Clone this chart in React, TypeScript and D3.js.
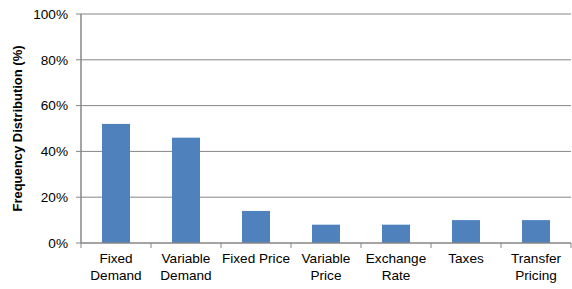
import React from "react";
import * as d3 from "d3";

const categories: string[][] = [
  ["Fixed", "Demand"],
  ["Variable", "Demand"],
  ["Fixed Price"],
  ["Variable", "Price"],
  ["Exchange", "Rate"],
  ["Taxes"],
  ["Transfer", "Pricing"],
];
const values: number[] = [52, 46, 14, 8, 8, 10, 10];
const yTicks: number[] = [0, 20, 40, 60, 80, 100];

const W = 572;
const H = 289;
const left = 81;
const right = 571;
const top = 14;
const bottom = 243;

export default function App() {
  const keys = categories.map((c) => c.join(" "));
  const x = d3.scaleBand<string>().domain(keys).range([left, right]).paddingInner(0.6).paddingOuter(0.3);
  const xs = d3.scaleBand<string>().domain(keys).range([left, right]);
  const y = d3.scaleLinear().domain([0, 100]).range([bottom, top]);
  const font = "'Liberation Sans', Arial, sans-serif";
  const fs = 13.6;
  return (
    <svg width={W} height={H} style={{ position: "absolute", left: 0, top: 0 }}>
      <rect width={W} height={H} fill="#fff" />
      {yTicks.map((t) =>
        t > 0 ? (
          <line key={t} x1={left} x2={right} y1={y(t)} y2={y(t)} stroke="#868686" strokeWidth={1} />
        ) : null
      )}
      {values.map((v, i) => (
        <rect
          key={i}
          x={x(keys[i])!}
          y={y(v)}
          width={x.bandwidth()}
          height={y(0) - y(v)}
          fill="#4F81BD"
        />
      ))}
      <line x1={left} x2={left} y1={top} y2={bottom} stroke="#868686" strokeWidth={1.5} />
      <line x1={left} x2={right} y1={bottom} y2={bottom} stroke="#868686" strokeWidth={1.5} />
      {yTicks.map((t) => (
        <g key={t}>
          <line x1={left - 5} x2={left} y1={y(t)} y2={y(t)} stroke="#868686" />
          <text x={68} y={y(t)} dy="0.35em" textAnchor="end" fontSize={fs} fontFamily={font} fill="#000">
            {t}%
          </text>
        </g>
      ))}
      {keys.map((k) => (
        <line key={k} x1={xs(k)!} x2={xs(k)!} y1={bottom} y2={bottom + 5} stroke="#868686" />
      ))}
      <line x1={right} x2={right} y1={bottom} y2={bottom + 5} stroke="#868686" />
      {categories.map((lines, i) => {
        const cx = xs(keys[i])! + xs.bandwidth() / 2;
        return (
          <text key={i} textAnchor="middle" fontSize={fs} fontFamily={font} fill="#000">
            {lines.map((ln, j) => (
              <tspan key={j} x={cx} y={263 + j * 17}>
                {ln}
              </tspan>
            ))}
          </text>
        );
      })}
      <text
        transform={`translate(22,${(top + bottom) / 2}) rotate(-90)`}
        textAnchor="middle"
        fontSize={13}
        fontWeight="bold"
        fontFamily={font}
        fill="#000"
      >
        Frequency Distribution (%)
      </text>
    </svg>
  );
}
